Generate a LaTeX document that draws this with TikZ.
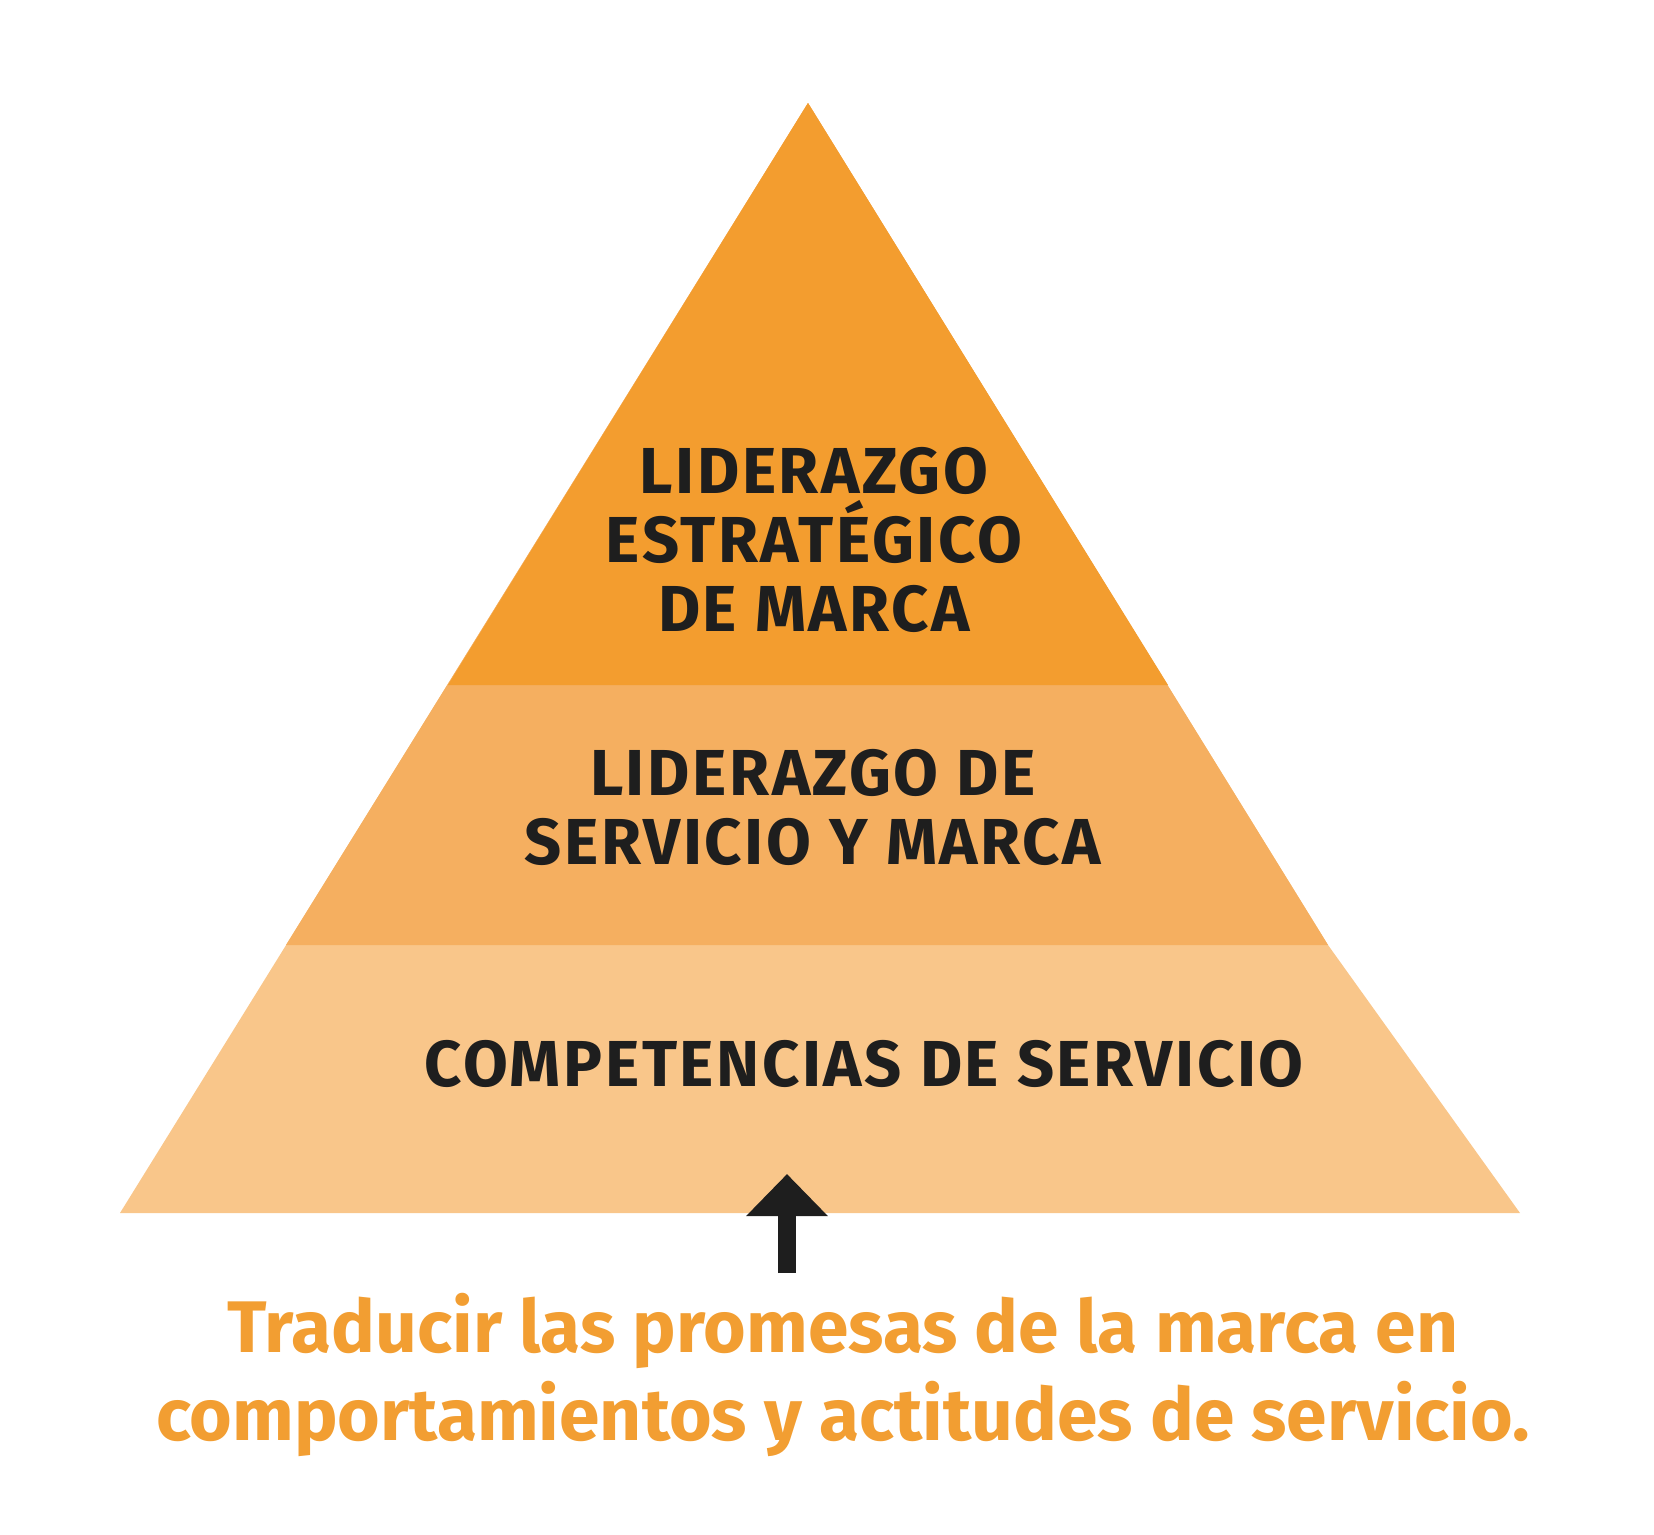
\documentclass[tikz,border=0pt]{standalone}
\usepackage{fontspec}
\usepackage{tkz-euclide}
\usetikzlibrary{arrows.meta}
\setmainfont{Fira Sans}
\newfontfamily\tierfont{Fira Sans}[LetterSpace=4]
\definecolor{bandtop}{RGB}{243,157,47}
\definecolor{bandmid}{RGB}{245,175,96}
\definecolor{bandlow}{RGB}{249,198,138}
\definecolor{ink}{RGB}{30,30,30}
\definecolor{motto}{RGB}{242,158,50}
\tikzset{>=stealth}
\tikzset{
  tierlabel/.style = {text=ink, font=\tierfont\bfseries\fontsize{37}{39.3}\selectfont, align=center},
  mottotext/.style = {text=motto, font=\bfseries\fontsize{41.6}{50.6}\selectfont, align=center}
}

\begin{document}
\begin{tikzpicture}[x=0.02cm, y=-0.02cm]
\useasboundingbox (0,0) rectangle (1654,1535);
\tkzDefPoints{808/103/T, 448/685/A, 1168/685/B, 286/945/C, 1328/945/D, 120/1213/E, 1520/1213/F}
\tkzDefPoints{787/1273/P, 787/1174/Q}
% bands, bottom first
\tkzFillPolygon[color=bandlow](T,D,F,E)
\tkzFillPolygon[color=bandmid](T,D,C)
\tkzFillPolygon[color=bandtop](T,B,A)
\node[tierlabel] (top) at (814,540) {LIDERAZGO\\ESTRATÉGICO\\DE MARCA};
\node[tierlabel] (mid) at (813,807) {LIDERAZGO DE\\SERVICIO Y MARCA};
\node[tierlabel, anchor=base] (low) at (864,1086) {COMPETENCIAS DE SERVICIO};
\tkzDrawSegment[color=ink, line width=10.24pt, line cap=butt, -{Triangle[width=45pt, length=23.9pt]}](P,Q)
\node[mottotext] (motto) at (843,1375) {Traducir las promesas de la marca en\\comportamientos y actitudes de servicio.};
\end{tikzpicture}
\end{document}
